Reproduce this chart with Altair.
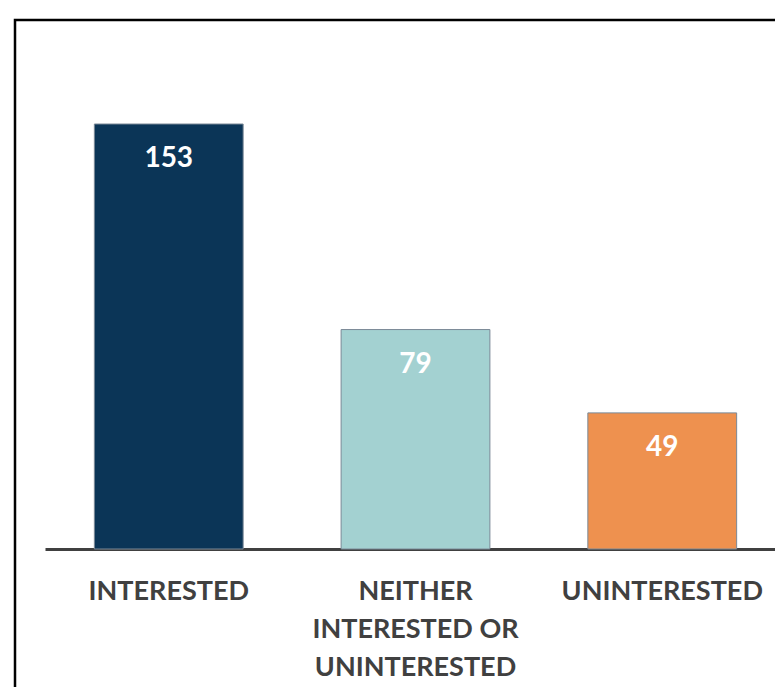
import altair as alt
import pandas as pd

categories = ["INTERESTED", "NEITHER|INTERESTED OR|UNINTERESTED", "UNINTERESTED"]
values = [153, 79, 49]
colors = ["#0B3557", "#A3D1D1", "#EE914F"]

df = pd.DataFrame({"category": categories, "value": values})

x = alt.X(
    "category:N",
    sort=categories,
    scale=alt.Scale(paddingInner=0.397, paddingOuter=0.2, range=[0, 741]),
    axis=alt.Axis(
        title=None,
        labelAngle=0,
        labelExpr="split(datum.label, '|')",
        labelFont="Lato",
        labelFontWeight="bold",
        labelFontSize=27,
        labelColor="#404040",
        labelLineHeight=38,
        labelPadding=29,
        labelLimit=0,
        ticks=False,
        domainColor="#404040",
        domainWidth=3,
        grid=False,
    ),
)
y = alt.Y("value:Q", scale=alt.Scale(domain=[0, 180], nice=False), axis=None)

bars = alt.Chart(df).mark_bar(stroke="#7A8896", strokeWidth=1).encode(
    x=x,
    y=y,
    color=alt.Color("category:N", scale=alt.Scale(domain=categories, range=colors), legend=None),
)

texts = alt.Chart(df).mark_text(
    color="white", font="Lato", fontWeight="bold", fontSize=28, baseline="alphabetic", dy=43
).encode(x=alt.X("category:N", sort=categories), y="value:Q", text="value:Q")

frame = alt.Chart(pd.DataFrame({"f": [0]})).mark_rect(
    filled=False, stroke="#000000", strokeWidth=2.5
).encode(x=alt.value(-30), x2=alt.value(745), y=alt.value(-29), y2=alt.value(660))

chart = alt.layer(frame, bars, texts).properties(
    width=730,
    height=500,
    autosize=alt.AutoSizeParams(type="none"),
    padding={"left": 37, "top": 41, "right": 0, "bottom": 138},
).configure_view(stroke=None)

chart.save("out.html", embed_options={"renderer": "svg", "actions": False})
